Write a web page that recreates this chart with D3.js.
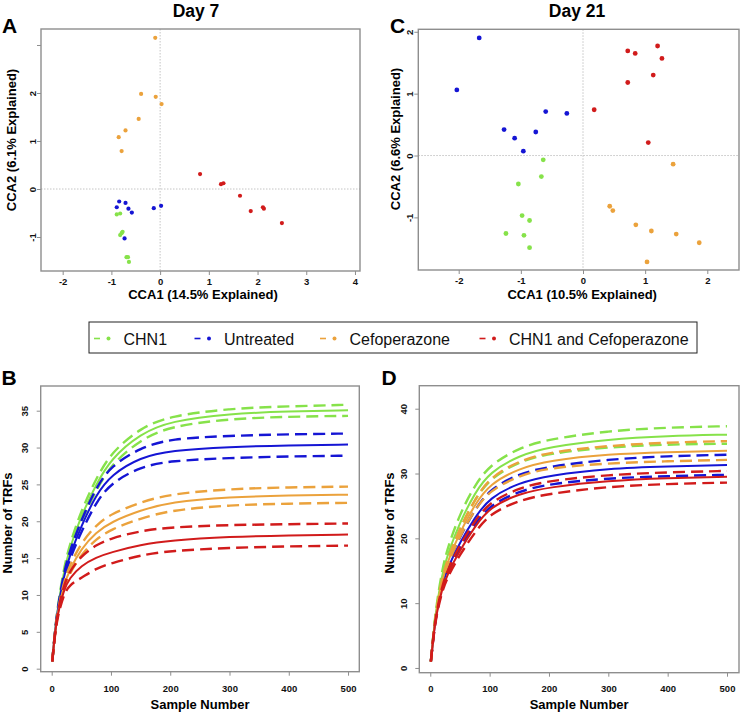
<!DOCTYPE html>
<html>
<head>
<meta charset="utf-8">
<script src="https://cdn.jsdelivr.net/npm/d3@7"></script>
<style>
  body { margin: 0; background: #fff; }
  svg { display: block; font-family: 'Liberation Sans', Arial, sans-serif; }
</style>
</head>
<body>
<div id="chart"></div>
<script>
const groupLabels = ['CHN1', 'Untreated', 'Cefoperazone', 'CHN1 and Cefoperazone']
const groupColors = ['#86e24a', '#1515d4', '#eba23c', '#d11b1b']

// Day 7 CCA scores, [CCA1, CCA2]
const day7Chn1 = [[-0.89, -0.53], [-0.82, -0.51], [-0.77, -0.89], [-0.79, -0.92], [-0.82, -0.96], [-0.69, -1.42], [-0.66, -1.42], [-0.64, -1.52]]
const day7Untreated = [[-0.84, -0.26], [-0.89, -0.38], [-0.71, -0.29], [-0.65, -0.41], [-0.58, -0.49], [-0.13, -0.40], [0.02, -0.35], [-0.73, -1.03]]
const day7Cef = [[-0.10, 3.15], [-0.39, 1.98], [-0.09, 1.92], [0.03, 1.77], [-0.44, 1.46], [-0.71, 1.22], [-0.85, 1.08], [-0.79, 0.79]]
const day7Both = [[0.82, 0.31], [1.25, 0.10], [1.30, 0.12], [1.64, -0.14], [1.86, -0.46], [2.11, -0.38], [2.13, -0.41], [2.50, -0.71]]

// Day 21 CCA scores
const day21Chn1 = [[-0.64, -0.07], [-0.67, -0.34], [-1.04, -0.46], [-0.98, -0.97], [-0.86, -1.05], [-1.24, -1.26], [-0.95, -1.29], [-0.86, -1.49]]
const day21Untreated = [[-1.67, 1.90], [-2.03, 1.06], [-1.27, 0.42], [-1.10, 0.28], [-0.96, 0.07], [-0.76, 0.38], [-0.60, 0.71], [-0.26, 0.68]]
const day21Cef = [[1.45, -0.14], [0.43, -0.82], [0.48, -0.89], [0.85, -1.12], [1.10, -1.22], [1.50, -1.27], [1.87, -1.41], [1.03, -1.72]]
const day21Both = [[0.18, 0.74], [0.72, 1.69], [0.84, 1.65], [0.72, 1.18], [1.20, 1.77], [1.27, 1.57], [1.13, 1.30], [1.05, 0.21]]

// rarefaction curves: sample number -> number of TRFs (mean, upper, lower)
const sampleNumbers = [1, 5, 10, 20, 30, 50, 75, 100, 150, 200, 300, 400, 500]

const day7Chn1Mean = [1, 4.6, 8.2, 13.0, 16.3, 20.8, 25.0, 28.5, 31.9, 33.6, 34.6, 34.9, 35.05]
const day7Chn1Upper = [1, 4.7, 8.4, 13.4, 16.8, 21.5, 25.8, 29.3, 32.7, 34.3, 35.3, 35.6, 35.8]
const day7Chn1Lower = [1, 4.5, 8.0, 12.6, 15.8, 20.1, 24.2, 27.7, 31.1, 32.9, 33.9, 34.2, 34.3]
const day7UntreatedMean = [1, 4.6, 8.0, 12.4, 15.3, 19.4, 23.6, 26.3, 28.7, 29.6, 30.1, 30.3, 30.4]
const day7UntreatedUpper = [1, 4.7, 8.2, 12.8, 15.9, 20.2, 24.6, 27.5, 30.0, 31.2, 31.6, 31.8, 31.9]
const day7UntreatedLower = [1, 4.5, 7.8, 12.0, 14.8, 18.6, 22.6, 25.2, 27.4, 28.2, 28.6, 28.8, 28.9]
const day7CefMean = [1, 4.5, 7.6, 11.2, 13.4, 16.3, 18.5, 19.9, 21.5, 22.6, 23.3, 23.5, 23.6]
const day7CefUpper = [1, 4.6, 7.8, 11.6, 14.0, 17.1, 19.5, 21.0, 22.6, 23.7, 24.4, 24.6, 24.7]
const day7CefLower = [1, 4.4, 7.4, 10.8, 12.9, 15.5, 17.6, 18.9, 20.4, 21.5, 22.2, 22.4, 22.5]
const day7BothMean = [1, 4.4, 7.4, 10.6, 12.3, 14.0, 15.1, 15.8, 16.8, 17.4, 17.9, 18.1, 18.2]
const day7BothUpper = [1, 4.5, 7.7, 11.2, 13.2, 15.3, 16.8, 17.7, 18.7, 19.2, 19.5, 19.6, 19.7]
const day7BothLower = [1, 4.3, 7.1, 10.0, 11.4, 12.3, 13.6, 14.3, 15.4, 16.0, 16.4, 16.6, 16.7]

const day21Chn1Mean = [1, 5.0, 9.2, 14.5, 17.8, 22.5, 27.0, 30.2, 32.8, 34.1, 35.3, 35.8, 36.0]
const day21Chn1Upper = [1, 5.1, 9.5, 15.2, 18.8, 23.8, 28.2, 31.3, 34.0, 35.3, 36.6, 37.1, 37.3]
const day21Chn1Lower = [1, 4.9, 9.0, 14.0, 17.1, 21.6, 26.0, 29.2, 31.9, 33.1, 34.1, 34.5, 34.6]
const day21UntreatedMean = [1, 4.7, 8.5, 12.9, 15.6, 19.4, 23.2, 26.3, 28.6, 29.7, 30.8, 31.1, 31.3]
const day21UntreatedUpper = [1, 4.8, 8.7, 13.3, 16.2, 20.3, 24.4, 27.6, 30.0, 31.1, 32.2, 32.7, 32.9]
const day21UntreatedLower = [1, 4.6, 8.3, 12.5, 15.0, 18.6, 22.2, 25.1, 27.3, 28.4, 29.3, 29.6, 29.8]
const day21CefMean = [1, 4.8, 8.8, 13.6, 16.6, 21.0, 25.2, 28.4, 30.8, 32.0, 33.0, 33.3, 33.5]
const day21CefUpper = [1, 4.9, 9.0, 14.0, 17.0, 21.6, 26.0, 29.4, 32.0, 33.3, 34.3, 34.8, 35.0]
const day21CefLower = [1, 4.8, 8.7, 13.3, 16.2, 20.4, 24.4, 27.4, 29.7, 30.9, 31.6, 31.9, 32.1]
const day21BothMean = [1, 4.6, 8.2, 12.3, 14.7, 18.2, 21.8, 24.8, 26.9, 27.9, 28.9, 29.3, 29.5]
const day21BothUpper = [1, 4.7, 8.4, 12.7, 15.3, 19.0, 22.7, 25.6, 27.8, 28.9, 29.8, 30.2, 30.4]
const day21BothLower = [1, 4.5, 8.0, 11.9, 14.2, 17.5, 20.9, 23.8, 25.9, 26.9, 28.0, 28.4, 28.6]

const BOX = '#8e8e8e'

const svg = d3
  .select('#chart')
  .append('svg')
  .attr('width', 740)
  .attr('height', 714)

function drawAxes(x, y, cfg) {
  const [x0, x1] = x.range()

  const xa = svg
    .append('g')
    .attr('transform', `translate(0, ${y.range()[0]})`)
    .call(d3.axisBottom(x).tickValues(cfg.xTicks).tickSize(4).tickFormat(d => d))
  xa.select('.domain').remove()
  xa.selectAll('line').attr('stroke', BOX)
  xa.attr('font-family', null).attr('font-size', 9.5).attr('font-weight', 'bold')
  xa.selectAll('text').attr('y', cfg.xLabelGap).attr('dy', 0).attr('fill', '#111')

  const ya = svg
    .append('g')
    .attr('transform', `translate(${x0}, 0)`)
    .call(
      d3
        .axisLeft(y)
        .tickValues(cfg.yTicks)
        .tickSize(4)
        .tickFormat(cfg.yFormat || (d => d)),
    )
  ya.select('.domain').remove()
  ya.selectAll('line').attr('stroke', BOX)
  ya.attr('font-family', null).attr('font-size', 9.5).attr('font-weight', 'bold')
  ya.selectAll('text')
    .attr('x', 0)
    .attr('y', -cfg.yLabelGap)
    .attr('dy', 0)
    .attr('transform', 'rotate(-90)')
    .attr('text-anchor', 'middle')
    .attr('fill', '#111')

  svg
    .append('text')
    .attr('x', (x0 + x1) / 2 + (cfg.xTitleShift || 0))
    .attr('y', cfg.xTitleY)
    .attr('text-anchor', 'middle')
    .attr('font-size', 13)
    .attr('font-weight', 'bold')
    .text(cfg.xTitle)

  svg
    .append('text')
    .attr('transform', `translate(${cfg.yTitleX}, ${cfg.yTitleY}) rotate(-90)`)
    .attr('text-anchor', 'middle')
    .attr('font-size', 13)
    .attr('font-weight', 'bold')
    .text(cfg.yTitle)

  svg
    .append('text')
    .attr('x', cfg.letterX)
    .attr('y', cfg.letterY)
    .attr('font-size', 21)
    .attr('font-weight', 'bold')
    .text(cfg.letter)
}

function drawBox(x, y) {
  const [x0, x1] = x.range()
  const [y0, y1] = y.range()
  svg
    .append('rect')
    .attr('x', x0)
    .attr('y', y1)
    .attr('width', x1 - x0)
    .attr('height', y0 - y1)
    .attr('fill', 'none')
    .attr('stroke', BOX)
    .attr('stroke-width', 1.4)
}

function scatterPanel(cfg) {
  const x = d3.scaleLinear().domain(cfg.xDomain).range(cfg.xRange)
  const y = d3.scaleLinear().domain(cfg.yDomain).range(cfg.yRange)

  // dotted zero lines
  svg
    .append('line')
    .attr('x1', x(0)).attr('x2', x(0))
    .attr('y1', cfg.yRange[1]).attr('y2', cfg.yRange[0])
    .attr('stroke', '#b5b5b5')
    .attr('stroke-width', 0.8)
    .attr('stroke-dasharray', '1.5,1.5')
  svg
    .append('line')
    .attr('x1', cfg.xRange[0]).attr('x2', cfg.xRange[1])
    .attr('y1', y(0)).attr('y2', y(0))
    .attr('stroke', '#b5b5b5')
    .attr('stroke-width', 0.8)
    .attr('stroke-dasharray', '1.5,1.5')

  drawBox(x, y)
  drawAxes(x, y, cfg)

  cfg.series.forEach((points, i) => {
    svg
      .append('g')
      .selectAll('circle')
      .data(points)
      .enter()
      .append('circle')
      .attr('cx', d => x(d[0]))
      .attr('cy', d => y(d[1]))
      .attr('r', cfg.r)
      .attr('fill', groupColors[i])
  })

  svg
    .append('text')
    .attr('x', cfg.titleX)
    .attr('y', 16.5)
    .attr('text-anchor', 'middle')
    .attr('font-size', 17.5)
    .attr('font-weight', 'bold')
    .text(cfg.title)
}

function curvePanel(cfg) {
  const x = d3.scaleLinear().domain(cfg.xDomain).range(cfg.xRange)
  const y = d3.scaleLinear().domain(cfg.yDomain).range(cfg.yRange)

  drawBox(x, y)
  drawAxes(x, y, cfg)

  const line = d3
    .line()
    .x((d, i) => x(sampleNumbers[i]))
    .y(d => y(d))
    .curve(d3.curveBasis)

  cfg.series.forEach(([mean, upper, lower], i) => {
    ;[upper, lower].forEach(values => {
      svg
        .append('path')
        .attr('d', line(values))
        .attr('fill', 'none')
        .attr('stroke', groupColors[i])
        .attr('stroke-width', 2.4)
        .attr('stroke-dasharray', '12,6')
    })
    svg
      .append('path')
      .attr('d', line(mean))
      .attr('fill', 'none')
      .attr('stroke', groupColors[i])
      .attr('stroke-width', 2)
  })
}

scatterPanel({
  title: 'Day 7',
  titleX: 196,
  letter: 'A',
  letterX: 2,
  letterY: 33,
  xDomain: [-2.445, 4.103],
  xRange: [41, 360],
  yDomain: [-1.708, 3.333],
  yRange: [271, 29],
  xTicks: [-2, -1, 0, 1, 2, 3, 4],
  yTicks: [-1, 0, 1, 2, 3],
  yFormat: d => (d === 3 ? '' : d),
  xLabelGap: 13.5,
  yLabelGap: 5.5,
  xTitle: 'CCA1 (14.5% Explained)',
  xTitleShift: 2.5,
  xTitleY: 299,
  yTitle: 'CCA2 (6.1% Explained)',
  yTitleX: 16,
  yTitleY: 140,
  r: 2.1,
  series: [day7Chn1, day7Untreated, day7Cef, day7Both],
})

scatterPanel({
  title: 'Day 21',
  titleX: 577,
  letter: 'C',
  letterX: 390,
  letterY: 33,
  xDomain: [-2.65, 2.51],
  xRange: [418.3, 739],
  yDomain: [-1.85, 2.04],
  yRange: [270, 29.3],
  xTicks: [-2, -1, 0, 1, 2],
  yTicks: [-1, 0, 1, 2],
  xLabelGap: 14,
  yLabelGap: 5.5,
  xTitle: 'CCA1 (10.5% Explained)',
  xTitleShift: 3.5,
  xTitleY: 299,
  yTitle: 'CCA2 (6.6% Explained)',
  yTitleX: 400,
  yTitleY: 139,
  r: 2.4,
  series: [day21Chn1, day21Untreated, day21Cef, day21Both],
})

// legend
const legend = svg.append('g')
legend
  .append('rect')
  .attr('x', 89)
  .attr('y', 322)
  .attr('width', 608)
  .attr('height', 31)
  .attr('fill', 'none')
  .attr('stroke', '#222')
  .attr('stroke-width', 1)
const legendX = [94, 194.5, 320, 479.5]
groupLabels.forEach((label, i) => {
  const gx = legendX[i]
  legend
    .append('line')
    .attr('x1', gx).attr('x2', gx + 6)
    .attr('y1', 338.5).attr('y2', 338.5)
    .attr('stroke', groupColors[i])
    .attr('stroke-width', 1.6)
  legend
    .append('circle')
    .attr('cx', gx + 14.5)
    .attr('cy', 338.5)
    .attr('r', 2)
    .attr('fill', groupColors[i])
  legend
    .append('text')
    .attr('x', gx + 29.5)
    .attr('y', 344.5)
    .attr('font-size', 16)
    .attr('fill', '#111')
    .text(label)
})

curvePanel({
  letter: 'B',
  letterX: 1.5,
  letterY: 384.5,
  xDomain: [-18.56, 519],
  xRange: [40.7, 359.3],
  yDomain: [-0.41, 38.35],
  yRange: [671.7, 386],
  xTicks: [0, 100, 200, 300, 400, 500],
  yTicks: [0, 5, 10, 15, 20, 25, 30, 35],
  xLabelGap: 20,
  yLabelGap: 12.5,
  xTitle: 'Sample Number',
  xTitleY: 709,
  yTitle: 'Number of TRFs',
  yTitleX: 12,
  yTitleY: 523,
  series: [
    [day7Chn1Mean, day7Chn1Upper, day7Chn1Lower],
    [day7UntreatedMean, day7UntreatedUpper, day7UntreatedLower],
    [day7CefMean, day7CefUpper, day7CefLower],
    [day7BothMean, day7BothUpper, day7BothLower],
  ],
})

curvePanel({
  letter: 'D',
  letterX: 381.5,
  letterY: 385,
  xDomain: [-18.5, 520.2],
  xRange: [419.3, 739],
  yDomain: [-0.73, 43.55],
  yRange: [672.7, 385.7],
  xTicks: [0, 100, 200, 300, 400, 500],
  yTicks: [0, 10, 20, 30, 40],
  xLabelGap: 19.6,
  yLabelGap: 12.8,
  xTitle: 'Sample Number',
  xTitleY: 709,
  yTitle: 'Number of TRFs',
  yTitleX: 393.5,
  yTitleY: 523,
  series: [
    [day21Chn1Mean, day21Chn1Upper, day21Chn1Lower],
    [day21UntreatedMean, day21UntreatedUpper, day21UntreatedLower],
    [day21CefMean, day21CefUpper, day21CefLower],
    [day21BothMean, day21BothUpper, day21BothLower],
  ],
})
</script>
</body>
</html>
